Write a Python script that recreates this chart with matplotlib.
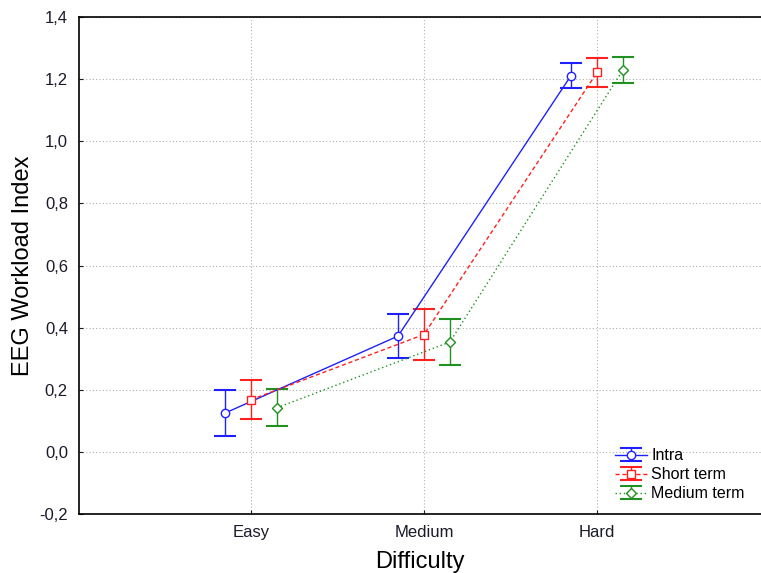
import matplotlib.pyplot as plt
import matplotlib.ticker as ticker
from matplotlib.container import ErrorbarContainer
from matplotlib.legend_handler import HandlerErrorbar

plt.rcParams["font.family"] = ["Liberation Sans", "DejaVu Sans"]

# Data
categories = ["Easy", "Medium", "Hard"]
series_names = ["Intra", "Short term", "Medium term"]
means = [
    [0.125, 0.373, 1.212],
    [0.168, 0.378, 1.222],
    [0.142, 0.354, 1.230],
]
errors = [
    [0.073, 0.070, 0.040],
    [0.063, 0.082, 0.047],
    [0.060, 0.073, 0.043],
]

colors = ["#2020ff", "#ff2020", "#209020"]
linestyles = ["-", (0, (3, 2)), (0, (1, 2))]
markers = ["o", "s", "D"]
msizes = [6, 6, 5]
offsets = [-0.15, 0.0, 0.15]

fig = plt.figure(figsize=(7.61, 5.73), dpi=100)
ax = fig.add_axes([0.1038, 0.103, 0.8962, 0.867])

for i, name in enumerate(series_names):
    xs = [j + offsets[i] for j in range(len(categories))]
    ax.errorbar(
        xs,
        means[i],
        yerr=errors[i],
        color=colors[i],
        linestyle=linestyles[i],
        linewidth=1,
        marker=markers[i],
        markersize=msizes[i],
        markerfacecolor="white",
        markeredgecolor=colors[i],
        ecolor=colors[i],
        elinewidth=1,
        capsize=8,
        capthick=1.5,
        label=name,
    )

ax.set_xlim(-0.994, 2.948)
ax.set_ylim(-0.2, 1.4)
ax.set_xticks(range(len(categories)))
ax.set_xticklabels(categories)
ax.yaxis.set_major_locator(ticker.MultipleLocator(0.2))
ax.yaxis.set_major_formatter(
    ticker.FuncFormatter(lambda v, p: f"{v:.1f}".replace(".", ",").replace("-0,0", "0,0"))
)
ax.tick_params(direction="in", length=3, labelsize=12, colors="#1a1a2a", pad=8)
ax.grid(True, color="#b0b0b0", linestyle=(0, (1, 2)), linewidth=0.8)
ax.set_axisbelow(True)
ax.spines["right"].set_visible(False)
for s in ["left", "top", "bottom"]:
    ax.spines[s].set_linewidth(1.2)

ax.set_xlabel("Difficulty", fontsize=17, labelpad=8)
ax.set_ylabel("EEG Workload Index", fontsize=17, labelpad=4)

ax.legend(
    loc="lower right",
    bbox_to_anchor=(0.995, 0.0),
    frameon=False,
    fontsize=11.5,
    handlelength=2.0,
    handletextpad=0.3,
    labelspacing=0.25,
    borderaxespad=0.4,
    handler_map={ErrorbarContainer: HandlerErrorbar(yerr_size=0.4)},
)

fig.savefig("out.png", dpi=100)
